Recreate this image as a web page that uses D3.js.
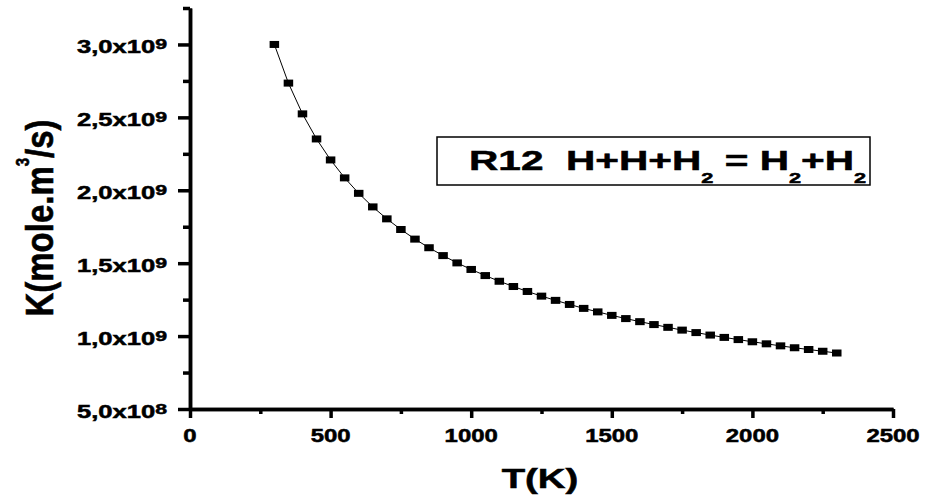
<!DOCTYPE html>
<html>
<head>
<meta charset="utf-8">
<script src="https://cdn.jsdelivr.net/npm/d3@7"></script>
<style>
body { margin: 0; background: #fff; }
text { font-family: "Liberation Sans", Arial, sans-serif; font-weight: bold; fill: #000; stroke: #000; stroke-width: 0.5px; white-space: pre; }
</style>
</head>
<body>
<svg id="chart" width="931" height="495"></svg>
<script>
// temperature (K) and rate coefficient
var temps = [300, 350, 400, 450, 500, 550, 600, 650, 700, 750,
			800, 850, 900, 950, 1000, 1050, 1100, 1150, 1200, 1250,
			1300, 1350, 1400, 1450, 1500, 1550, 1600, 1650, 1700, 1750,
			1800, 1850, 1900, 1950, 2000, 2050, 2100, 2150, 2200, 2250, 2300];
var rates = [3.000e9, 2.735e9, 2.524e9, 2.352e9, 2.208e9, 2.085e9, 1.979e9, 1.886e9, 1.804e9, 1.731e9,
			1.665e9, 1.606e9, 1.552e9, 1.502e9, 1.457e9, 1.415e9, 1.376e9, 1.340e9, 1.306e9, 1.274e9,
			1.245e9, 1.217e9, 1.190e9, 1.166e9, 1.142e9, 1.120e9, 1.099e9, 1.079e9, 1.060e9, 1.041e9,
			1.024e9, 1.007e9, 0.991e9, 0.976e9, 0.961e9, 0.947e9, 0.933e9, 0.920e9, 0.908e9, 0.896e9, 0.884e9];

var xTicks = [0, 500, 1000, 1500, 2000, 2500];
var xMinorTicks = [250, 750, 1250, 1750, 2250];
var yTicks = [5e8, 1e9, 1.5e9, 2e9, 2.5e9, 3e9];
var yMinorTicks = [7.5e8, 1.25e9, 1.75e9, 2.25e9, 2.75e9, 3.25e9];
var yTickMantissa = ["5,0", "1,0", "1,5", "2,0", "2,5", "3,0"];
var yTickExponent = ["8", "9", "9", "9", "9", "9"];

var legendParts = [["R12  H+H+H", false], ["2", true], [" = H", false], ["2", true], ["+H", false], ["2", true]];

var svg = d3.select("#chart");

var xScale = d3.scaleLinear()
	.domain([0, 2500])
	.range([190, 893]);

var yScale = d3.scaleLinear()
	.domain([5e8, 3.25e9])
	.range([409, 8]);

function styleAxis(g) {
	g.selectAll("text").remove();
	g.selectAll("path, line")
		.style("stroke", "#000")
		.style("stroke-width", "3.5px");
}

// minor ticks first, then major axes on top
svg.append("g")
	.attr("transform", "translate(0, 409)")
	.call(d3.axisBottom(xScale).tickValues(xMinorTicks).tickSize(5).tickSizeOuter(0))
	.call(styleAxis);

svg.append("g")
	.attr("transform", "translate(0, 409)")
	.call(d3.axisBottom(xScale).tickValues(xTicks).tickSize(9).tickSizeOuter(0))
	.call(styleAxis);

svg.append("g")
	.attr("transform", "translate(190, 0)")
	.call(d3.axisLeft(yScale).tickValues(yMinorTicks).tickSize(7).tickSizeOuter(0))
	.call(styleAxis);

svg.append("g")
	.attr("transform", "translate(190, 0)")
	.call(d3.axisLeft(yScale).tickValues(yTicks).tickSize(12).tickSizeOuter(0))
	.call(styleAxis);

// tick labels (glyphs in the original are stretched sideways)
svg.selectAll(".xlabel")
	.data(xTicks)
	.enter().append("text")
		.attr("class", "xlabel")
		.attr("transform", function(d) { return "translate(" + xScale(d) + ", 442) scale(1.33, 1)"; })
		.attr("text-anchor", "middle")
		.style("font-size", "18px")
		.text(function(d) { return d; });

var ylab = svg.selectAll(".ylabel")
	.data(yTicks)
	.enter().append("text")
		.attr("class", "ylabel")
		.attr("transform", function(d) { return "translate(167, " + (yScale(d) + 9) + ") scale(1.42, 1)"; })
		.attr("text-anchor", "end")
		.style("font-size", "18px");

ylab.append("tspan")
	.text(function(d, i) { return yTickMantissa[i] + "x10"; });

ylab.append("tspan")
	.attr("dy", -4.5)
	.style("font-size", "15px")
	.text(function(d, i) { return yTickExponent[i]; });

// axis titles
svg.append("text")
	.attr("transform", "translate(540, 488) scale(1.37, 1)")
	.attr("text-anchor", "middle")
	.style("font-size", "28px")
	.text("T(K)");

var yTitle = svg.append("text")
	.attr("transform", "translate(53, 218) scale(1.2, 1) rotate(-90)")
	.attr("text-anchor", "middle")
	.style("font-size", "33px");
yTitle.append("tspan").text("K(mole.m");
yTitle.append("tspan").attr("dy", -20).style("font-size", "15px").text("3");
yTitle.append("tspan").attr("dy", 20).text("/s)");

// data line and markers
var line = d3.line()
	.x(function(d, i) { return xScale(temps[i]); })
	.y(function(d) { return yScale(d); });

svg.append("path")
	.datum(rates)
	.attr("d", line)
	.attr("fill", "none")
	.attr("stroke", "#000")
	.attr("stroke-width", 1);

svg.selectAll(".marker")
	.data(rates)
	.enter().append("rect")
		.attr("class", "marker")
		.attr("x", function(d, i) { return xScale(temps[i]) - 4.75; })
		.attr("y", function(d) { return yScale(d) - 3.5; })
		.attr("width", 9.5)
		.attr("height", 7)
		.attr("fill", "#000");

// legend box
svg.append("rect")
	.attr("x", 437)
	.attr("y", 137)
	.attr("width", 433)
	.attr("height", 48)
	.attr("fill", "none")
	.attr("stroke", "#000")
	.attr("stroke-width", 1.5);

var legend = svg.append("text")
	.attr("transform", "translate(469, 169.5) scale(1.45, 1)")
	.style("font-size", "28px");

var shift = 0;
legendParts.forEach(function(p) {
	var dy = p[1] ? 14 - shift : -shift;
	shift = p[1] ? 14 : 0;
	legend.append("tspan")
		.attr("dy", dy)
		.style("font-size", p[1] ? "15px" : "28px")
		.text(p[0]);
});
</script>
</body>
</html>
